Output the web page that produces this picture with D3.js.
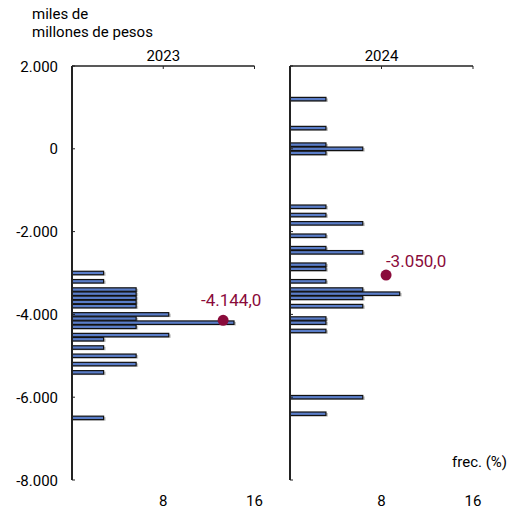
<!DOCTYPE html>
<html>
<head>
<meta charset="utf-8">
<script src="https://cdn.jsdelivr.net/npm/d3@7"></script>
<style>
  body { margin: 0; background: #fff; }
  text { font-family: Roboto, "Noto Sans", sans-serif; }
</style>
</head>
<body>
<div id="chart"></div>
<script>
// datos: saldo (miles de millones de pesos) y frecuencia (%)
const years = ["2023", "2024"];
const bins2023 = [-3000, -3200, -3400, -3500, -3600, -3700, -3800, -4000, -4100, -4200, -4300, -4500, -4600, -4800, -5000, -5200, -5400, -6500];
const freq2023 = [2.86, 2.86, 5.71, 5.71, 5.71, 5.71, 5.71, 8.57, 5.71, 14.29, 5.71, 8.57, 2.86, 2.86, 5.71, 5.71, 2.86, 2.86];
const bins2024 = [1200, 500, 100, 0, -100, -1400, -1600, -1800, -2100, -2400, -2500, -2800, -2900, -3200, -3400, -3500, -3600, -3800, -4100, -4200, -4400, -6000, -6400];
const freq2024 = [3.23, 3.23, 3.23, 6.45, 3.23, 3.23, 3.23, 6.45, 3.23, 3.23, 6.45, 3.23, 3.23, 3.23, 6.45, 9.68, 6.45, 6.45, 3.23, 3.23, 3.23, 6.45, 3.23];
const medianValue = [-4144, -3050];
const medianFreq = [13.25, 8.4];
const yTicks = [2000, 0, -2000, -4000, -6000, -8000];
const xTicks = [8, 16];

const width = 507;
const height = 514;

const svg = d3.select("div#chart").append("svg").attr("width", width).attr("height", height)

const y = d3.scaleLinear().domain([-8000, 2000]).range([480, 66])
const fmt = d => d3.format(",")(d).replace(/,/g, ".").replace("−", "-")

const panels = [
    { year: years[0], bins: bins2023, freq: freq2023, x0: 72, x1: 254.5 },
    { year: years[1], bins: bins2024, freq: freq2024, x0: 290, x1: 473 }
]

// título eje y
svg.append("text").attr("x", 32).attr("y", 19).attr("font-size", 15).text("miles de")
svg.append("text").attr("x", 32).attr("y", 37).attr("font-size", 15).text("millones de pesos")

// etiquetas eje y
svg.selectAll(".ylab").data(yTicks).enter().append("text")
    .attr("class", "ylab")
    .attr("x", 58).attr("y", d => y(d) + 5.5)
    .attr("text-anchor", "end").attr("font-size", 15)
    .text(fmt)

panels.forEach((p, i) => {
    const x = d3.scaleLinear().domain([0, 16]).range([p.x0, p.x1])
    const g = svg.append("g")
    const band = Math.abs(y(0) - y(100))

    // barras
    g.selectAll(".shadow").data(p.bins).enter().append("rect")
        .attr("x", x(0)).attr("y", d => y(d) - band * 0.42 + 1)
        .attr("width", (d, j) => x(p.freq[j]) - x(0) + 1)
        .attr("height", band * 0.84)
        .attr("fill", "#999").attr("opacity", 0.6)
    g.selectAll(".bar").data(p.bins).enter().append("rect")
        .attr("class", "bar")
        .attr("x", x(0)).attr("y", d => y(d) - band * 0.42)
        .attr("width", (d, j) => x(p.freq[j]) - x(0) - 1)
        .attr("height", band * 0.84)
        .attr("fill", "#5a7dc8").attr("stroke", "#111").attr("stroke-width", 1.2)

    // eje superior
    g.append("line").attr("x1", x(0)).attr("x2", x(16)).attr("y1", 66).attr("y2", 66)
        .attr("stroke", "#222").attr("stroke-width", 1.5)
    g.selectAll(".xt").data(xTicks).enter().append("line")
        .attr("x1", d => x(d)).attr("x2", d => x(d)).attr("y1", 66).attr("y2", 69)
        .attr("stroke", "#222").attr("stroke-width", 1)
    g.append("text").attr("x", x(8)).attr("y", 61).attr("text-anchor", "middle")
        .attr("font-size", 15).text(p.year)

    // etiquetas x abajo
    g.selectAll(".xlab").data(xTicks).enter().append("text")
        .attr("x", d => x(d)).attr("y", 506).attr("text-anchor", "middle")
        .attr("font-size", 15).text(d => d)

    // eje vertical
    g.append("line").attr("x1", x(0)).attr("x2", x(0)).attr("y1", 66).attr("y2", 480)
        .attr("stroke", "#222").attr("stroke-width", 2)
    g.selectAll(".yt").data(yTicks).enter().append("line")
        .attr("x1", x(0)).attr("x2", x(0) + 3).attr("y1", d => y(d)).attr("y2", d => y(d))
        .attr("stroke", "#222").attr("stroke-width", 1)

    // mediana
    g.append("circle").attr("cx", x(medianFreq[i])).attr("cy", y(medianValue[i])).attr("r", 5.5)
        .attr("fill", "#8a0b3b")
    g.append("text").attr("x", x(medianFreq[i]) + (i === 0 ? 8 : 30)).attr("y", y(medianValue[i]) - (i === 0 ? 14 : 8))
        .attr("text-anchor", "middle").attr("font-size", 17).attr("fill", "#8a0b3b")
        .text(d3.format(",.1f")(medianValue[i]).replace(/,/g, "#").replace(".", ",").replace(/#/g, ".").replace("−", "-"))
})

svg.append("text").attr("x", 507).attr("y", 467).attr("text-anchor", "end")
    .attr("font-size", 15).text("frec. (%)")
</script>
</body>
</html>
